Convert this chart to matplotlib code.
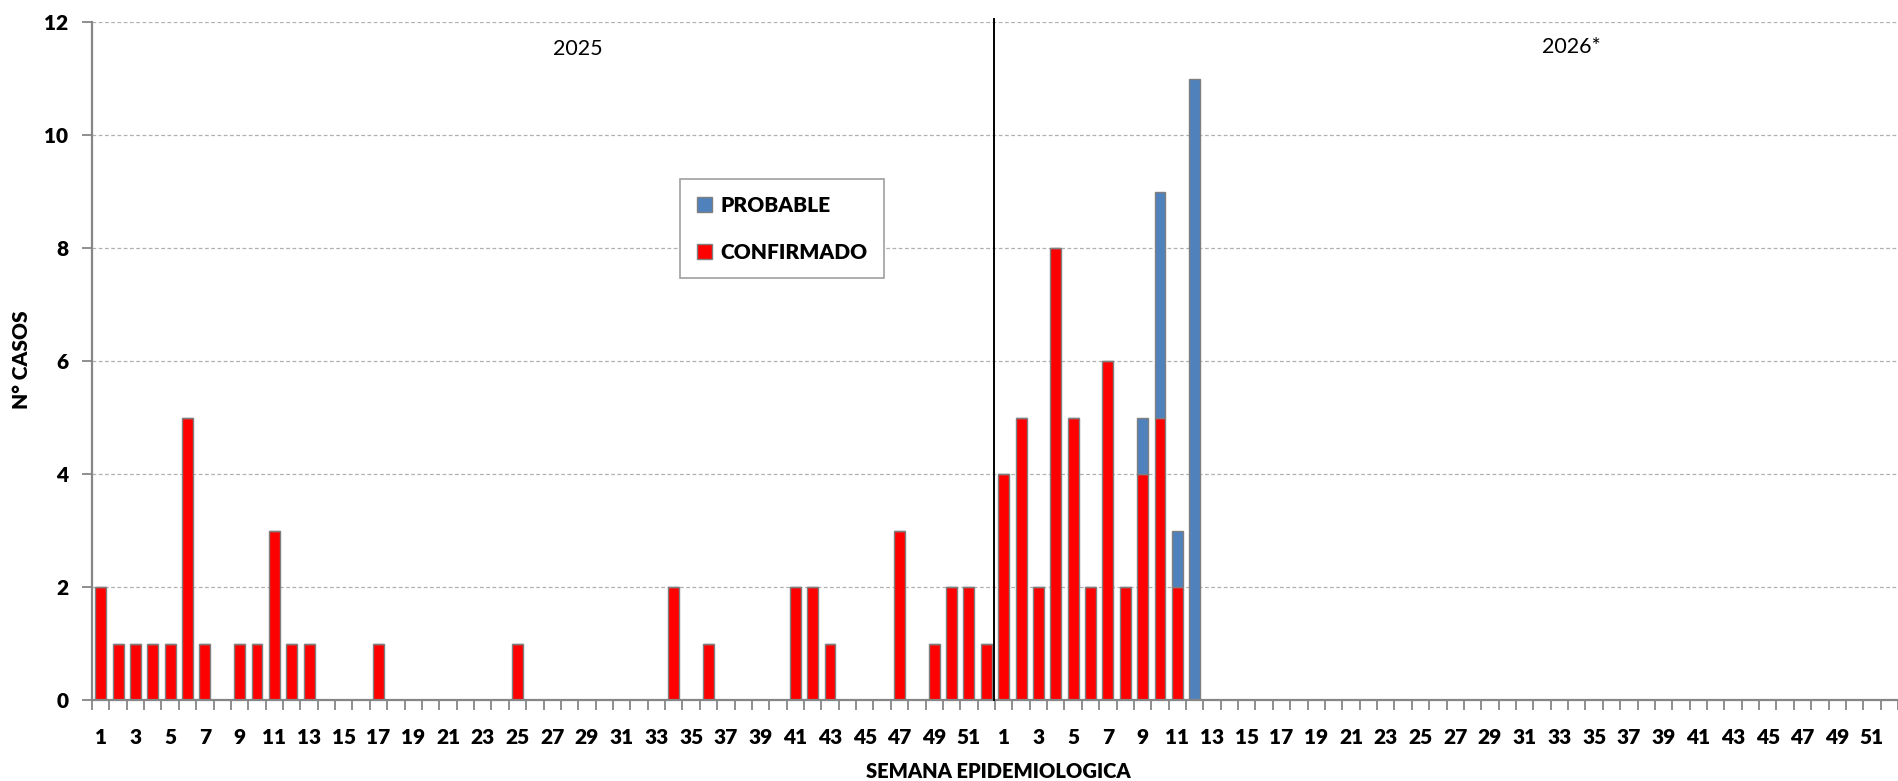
import numpy as np
import matplotlib.pyplot as plt
from matplotlib.patches import Patch

plt.rcParams['font.family'] = ['Lato', 'DejaVu Sans']

# Casos por semana epidemiologica
semanas_2025 = list(range(1, 53))
semanas_2026 = list(range(1, 53))

confirmado_2025 = [2, 1, 1, 1, 1, 5, 1, 0, 1, 1, 3, 1, 1, 0, 0, 0, 1, 0, 0, 0,
                   0, 0, 0, 0, 1, 0, 0, 0, 0, 0, 0, 0, 0, 2, 0, 1, 0, 0, 0, 0,
                   2, 2, 1, 0, 0, 0, 3, 0, 1, 2, 2, 1]
confirmado_2026 = [4, 5, 2, 8, 5, 2, 6, 2, 4, 5, 2, 0] + [0] * 40
probable_2025 = [0] * 52
probable_2026 = [0, 0, 0, 0, 0, 0, 0, 0, 1, 4, 1, 11] + [0] * 40

etiquetas = semanas_2025 + semanas_2026
confirmado = np.array(confirmado_2025 + confirmado_2026)
probable = np.array(probable_2025 + probable_2026)
x = np.arange(len(etiquetas))

ROJO = '#FF0000'
AZUL = '#4F81BD'
BORDE = '#7F7F7F'
GRIS = '#868686'
PESO = 'heavy'

fig = plt.figure(figsize=(18.98, 7.81), dpi=100)
ax = fig.add_axes([92 / 1898, 81 / 781, 1 - 92 / 1898, 678 / 781])

ax.bar(x, confirmado, width=0.63, color=ROJO, edgecolor=BORDE, linewidth=1, zorder=3)
ax.bar(x, probable, width=0.63, bottom=confirmado, color=AZUL, edgecolor=BORDE,
       linewidth=1, zorder=3)

# ejes
ax.set_ylim(0, 12)
ax.set_xlim(-0.5, 102.98)
ax.set_yticks(range(0, 13, 2))
ax.yaxis.grid(True, linestyle=(0, (3, 2)), color='#B0B0B0', linewidth=0.9, zorder=0)
ax.set_axisbelow(True)
for s in ['top', 'right']:
    ax.spines[s].set_visible(False)
for s in ['left', 'bottom']:
    ax.spines[s].set_color(GRIS)
    ax.spines[s].set_linewidth(1.6)
    ax.spines[s].set_zorder(4)

ax.set_xticks(x[::2])
ax.set_xticklabels([str(e) for e in etiquetas[::2]])
ax.set_xticks(np.arange(-0.5, len(etiquetas), 1), minor=True)
ax.tick_params(axis='x', which='major', length=0, pad=20, labelsize=15)
ax.tick_params(axis='x', which='minor', length=7, width=1.3, color=GRIS)
ax.tick_params(axis='y', length=7, width=1.3, color=GRIS, pad=10, labelsize=15)
for lbl in ax.get_xticklabels() + ax.get_yticklabels():
    lbl.set_fontweight(PESO)

fig.text(998 / 1898, 1 - 771 / 781, 'SEMANA EPIDEMIOLOGICA', ha='center', va='center',
         fontsize=14.5, fontweight=PESO)
fig.text(22 / 1898, 1 - 360 / 781, 'N° CASOS', ha='center', va='center', rotation=90,
         fontsize=15, fontweight=PESO)

# separador de años
ax.plot([51.45, 51.45], [0, 12.06], color='black', linewidth=1.4, clip_on=False, zorder=5)
fig.text(578 / 1898, 1 - 49 / 781, '2025', ha='center', va='center', fontsize=15.5)
fig.text(1571 / 1898, 1 - 47 / 781, '2026*', ha='center', va='center', fontsize=15.5)

handles = [Patch(facecolor=AZUL, edgecolor=BORDE, label='PROBABLE'),
           Patch(facecolor=ROJO, edgecolor=BORDE, label='CONFIRMADO')]
leg = ax.legend(handles=handles, loc='upper left', bbox_to_anchor=(680 / 1898, 1 - 179 / 781),
                bbox_transform=fig.transFigure, borderaxespad=0, fancybox=False,
                edgecolor='#A0A0A0', framealpha=1, handlelength=0.75, handleheight=0.75,
                handletextpad=0.4, labelspacing=1.35, borderpad=0.8,
                prop={'weight': PESO, 'size': 15})
leg.get_frame().set_linewidth(1.2)

fig.savefig('out.png', dpi=100)
